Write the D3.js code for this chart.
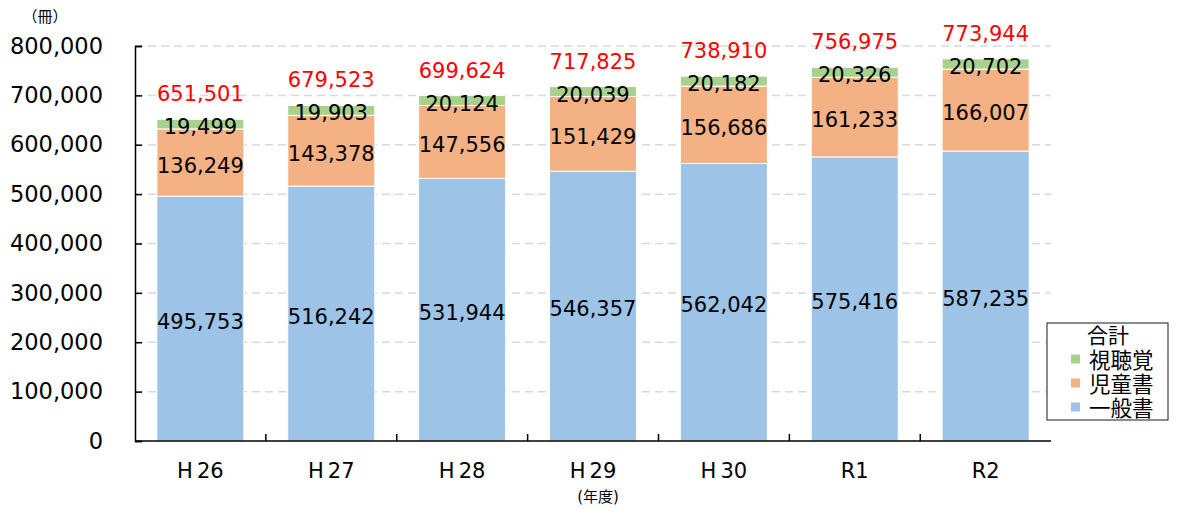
<!DOCTYPE html>
<html>
<head>
<meta charset="utf-8">
<script src="https://cdn.jsdelivr.net/npm/d3@7"></script>
<style>
  body { margin: 0; background: #fff; }
  svg text { font-family: "DejaVu Sans", "Noto Sans CJK JP", sans-serif; }
</style>
</head>
<body>
<svg id="chart" width="1177" height="509"></svg>
<script>
// data
var years = ["H26", "H27", "H28", "H29", "H30", "R1", "R2"];
var ippan = [495753, 516242, 531944, 546357, 562042, 575416, 587235];
var jido = [136249, 143378, 147556, 151429, 156686, 161233, 166007];
var shicho = [19499, 19903, 20124, 20039, 20182, 20326, 20702];
var totals = [651501, 679523, 699624, 717825, 738910, 756975, 773944];
var seriesNames = ["一般書", "児童書", "視聴覚"];
var yTicks = [0, 100000, 200000, 300000, 400000, 500000, 600000, 700000, 800000];

var colors = {"一般書": "#9dc3e6", "児童書": "#f4b183", "視聴覚": "#a9d18e"};

var svg = d3.select("#chart");
var margin = {top: 46, left: 135, right: 126, bottom: 68};
var width = 1177 - margin.left - margin.right,
    height = 509 - margin.top - margin.bottom;

var g = svg.append("g").attr("transform", "translate(" + margin.left + "," + margin.top + ")");

var x = d3.scaleBand().domain(years).range([0, width]).paddingInner(0.335).paddingOuter(0.167);
var y = d3.scaleLinear().domain([0, 800000]).range([height, 0]);

// table for stack
var rows = years.map(function(yr, i) {
  return {year: yr, "一般書": ippan[i], "児童書": jido[i], "視聴覚": shicho[i], total: totals[i]};
});
var stacked = d3.stack().keys(seriesNames)(rows);

// gridlines
g.selectAll(".grid")
  .data(yTicks.filter(function(d) { return d > 0; }))
  .enter().append("line")
    .attr("x1", 0).attr("x2", width)
    .attr("y1", function(d) { return y(d); })
    .attr("y2", function(d) { return y(d); })
    .attr("stroke", "#d9d9d9")
    .attr("stroke-width", 1.5)
    .attr("stroke-dasharray", "8,5");

// bars
var layer = g.selectAll(".layer")
  .data(stacked)
  .enter().append("g")
    .attr("fill", function(d) { return colors[d.key]; });

layer.selectAll("rect")
  .data(function(d) { return d; })
  .enter().append("rect")
    .attr("x", function(d) { return x(d.data.year); })
    .attr("y", function(d) { return y(d[1]); })
    .attr("width", x.bandwidth())
    .attr("height", function(d) { return y(d[0]) - y(d[1]); })
    .attr("stroke", "#fff")
    .attr("stroke-width", 1);

// segment labels
layer.selectAll("text")
  .data(function(d) { return d; })
  .enter().append("text")
    .attr("x", function(d) { return x(d.data.year) + x.bandwidth() / 2; })
    .attr("y", function(d) { return (y(d[0]) + y(d[1])) / 2 + 3; })
    .attr("text-anchor", "middle")
    .attr("dominant-baseline", "central")
    .attr("fill", "#000")
    .attr("font-size", "21px")
    .text(function(d) { return d3.format(",")(d[1] - d[0]); });

// totals
g.selectAll(".total")
  .data(rows)
  .enter().append("text")
    .attr("x", function(d) { return x(d.year) + x.bandwidth() / 2; })
    .attr("y", function(d) { return y(d.total) - 25; })
    .attr("text-anchor", "middle")
    .attr("dominant-baseline", "central")
    .attr("fill", "#ff0000")
    .attr("font-size", "21px")
    .text(function(d) { return d3.format(",")(d.total); });

// y axis (ticks point inward)
var yAxis = g.append("g")
  .call(d3.axisLeft(y).tickValues(yTicks).tickSize(-7).tickPadding(32).tickFormat(d3.format(",")));
yAxis.selectAll("text").attr("font-size", "22.5px").attr("fill", "#000");
yAxis.selectAll("line").attr("stroke", "#000").attr("stroke-width", 1.5);
yAxis.select(".domain").attr("stroke", "#000").attr("stroke-width", 1.5);

// x axis, ticks at band boundaries
var xa = g.append("g").attr("transform", "translate(0," + height + ")");
xa.append("line").attr("x1", 0).attr("x2", width).attr("stroke", "#000").attr("stroke-width", 1.5);
var step = x.step();
var x0 = x(years[0]) - step * x.paddingOuter();
xa.selectAll(".xt")
  .data(d3.range(1, years.length))
  .enter().append("line")
    .attr("x1", function(i) { return x0 + i * step; })
    .attr("x2", function(i) { return x0 + i * step; })
    .attr("y1", 0).attr("y2", -7)
    .attr("stroke", "#000").attr("stroke-width", 1.5);

xa.selectAll(".xl")
  .data(years)
  .enter().append("text")
    .attr("x", function(d) { return x(d) + x.bandwidth() / 2; })
    .attr("y", 30)
    .attr("text-anchor", "middle")
    .attr("dominant-baseline", "central")
    .attr("font-size", "21px")
    .attr("fill", "#000")
    .each(function(d) {
      var t = d3.select(this);
      if (d[0] === "H") {
        t.append("tspan").text(d[0]);
        t.append("tspan").attr("dx", 4).text(d.slice(1));
      } else {
        t.text(d);
      }
    });

// axis titles
svg.append("text")
  .attr("x", 45).attr("y", 17)
  .attr("text-anchor", "middle")
  .attr("dominant-baseline", "central")
  .attr("font-size", "15px")
  .text("（冊）");

svg.append("text")
  .attr("x", 598).attr("y", 497)
  .attr("text-anchor", "middle")
  .attr("dominant-baseline", "central")
  .attr("font-size", "15px")
  .text("(年度)");

// legend
var lg = svg.append("g").attr("transform", "translate(1047,323)");
lg.append("rect")
  .attr("width", 121).attr("height", 97)
  .attr("fill", "#fff").attr("stroke", "#404040").attr("stroke-width", 1.2);
lg.append("text")
  .attr("x", 61).attr("y", 13)
  .attr("text-anchor", "middle")
  .attr("dominant-baseline", "central")
  .attr("font-size", "21px")
  .text("合計");
var legendKeys = seriesNames.slice().reverse();
var item = lg.selectAll(".item")
  .data(legendKeys)
  .enter().append("g")
    .attr("transform", function(d, i) { return "translate(0," + (36 + i * 24) + ")"; });
item.append("rect")
  .attr("x", 24).attr("y", -4.5)
  .attr("width", 9).attr("height", 9)
  .attr("fill", function(d) { return colors[d]; });
item.append("text")
  .attr("x", 42).attr("y", 1)
  .attr("dominant-baseline", "central")
  .attr("font-size", "21.5px")
  .text(function(d) { return d; });
</script>
</body>
</html>
